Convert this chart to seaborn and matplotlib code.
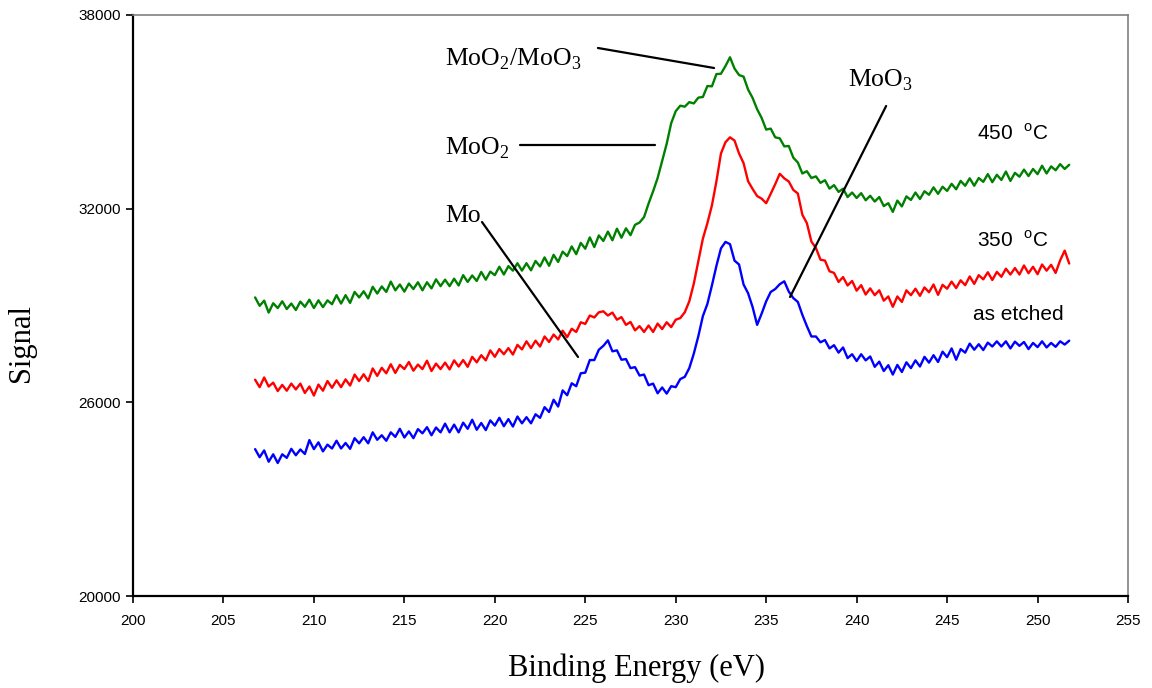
import numpy as np
import pandas as pd
import matplotlib
matplotlib.use("Agg")
import matplotlib.pyplot as plt
import seaborn as sns

# Binding-energy grid of the scans (eV), 0.25 eV steps
energy = np.linspace(206.75, 251.75, 181)

# Mo 3d region spectra (counts), one row per eV
as_etched = [
    24550,
    24300, 24510, 24160, 24390,  24120, 24390, 24280, 24560,  24360, 24540, 24400, 24830,
    24550, 24760, 24480, 24690,  24570, 24810, 24570, 24740,  24560, 24890, 24730, 24920,
    24730, 25070, 24840, 24980,  24810, 25070, 24930, 25180,  24910, 25100, 24890, 25170,
    25040, 25230, 24980, 25220,  25070, 25340, 25070, 25310,  25070, 25370, 25180, 25460,
    25150, 25360, 25140, 25440,  25280, 25520, 25260, 25480,  25250, 25560, 25350, 25540,
    25350, 25630, 25520, 25850,  25700, 26080, 25870, 26370,  26220, 26590, 26500, 26900,
    26920, 27310, 27310, 27630,  27750, 27920, 27580, 27610,  27320, 27340, 27060, 27090,
    26830, 26860, 26530, 26580,  26280, 26460, 26270, 26500,  26470, 26720, 26790, 27060,
    27510, 28050, 28670, 29050,  29620, 30230, 30770, 30970,  30900, 30390, 30270, 29650,
    29380, 28950, 28400, 28750,  29130, 29420, 29510, 29660,  29750, 29430, 29230, 29110,
    28710, 28360, 28040, 28040,  27860, 27930, 27670, 27770,  27540, 27700, 27370, 27490,
    27280, 27490, 27300, 27420,  27100, 27260, 26970, 27150,  26860, 27160, 26940, 27240,
    27060, 27300, 27110, 27410,  27230, 27460, 27250, 27570,  27400, 27670, 27320, 27650,
    27540, 27820, 27630, 27800,  27620, 27850, 27730, 27890,  27730, 27890, 27670, 27880,
    27750, 27870, 27650, 27840,  27710, 27890, 27700, 27840,  27720, 27890, 27790, 27910,
]

annealed_350 = [
    26700,
    26470, 26770, 26490, 26610,  26350, 26540, 26360, 26580,  26400, 26580, 26290, 26490,
    26210, 26550, 26360, 26660,  26450, 26680, 26470, 26710,  26520, 26860, 26660, 26870,
    26660, 27050, 26820, 27070,  26900, 27180, 26910, 27160,  27030, 27250, 26980, 27170,
    27030, 27290, 26970, 27200,  27030, 27230, 27020, 27300,  27110, 27310, 27100, 27410,
    27240, 27460, 27300, 27610,  27410, 27650, 27490, 27680,  27480, 27780, 27640, 27890,
    27680, 27910, 27730, 28040,  27870, 28100, 27950, 28220,  28020, 28280, 28180, 28480,
    28430, 28690, 28630, 28790,  28820, 28690, 28780, 28560,  28640, 28400, 28490, 28230,
    28360, 28180, 28380, 28180,  28440, 28270, 28480, 28330,  28560, 28610, 28790, 29130,
    29680, 30370, 31070, 31550,  32100, 32850, 33710, 34060,  34210, 34110, 33710, 33410,
    32850, 32610, 32390, 32310,  32170, 32460, 32760, 33080,  32940, 32840, 32580, 32470,
    31810, 31550, 30980, 30780,  30420, 30390, 30060, 30010,  29730, 29880, 29620, 29760,
    29460, 29630, 29340, 29530,  29320, 29470, 29150, 29280,  28960, 29280, 29110, 29470,
    29320, 29520, 29300, 29560,  29410, 29650, 29330, 29640,  29520, 29740, 29540, 29780,
    29630, 29900, 29670, 29940,  29810, 30030, 29790, 30040,  29890, 30140, 29960, 30160,
    29960, 30240, 30000, 30200,  29970, 30270, 30080, 30260,  30010, 30400, 30700, 30300,
]

annealed_450 = [
    29250,
    28990, 29150, 28780, 29070,  28920, 29130, 28890, 29060,  28860, 29120, 28960, 29180,
    28920, 29160, 28950, 29160,  29040, 29320, 29060, 29320,  29080, 29420, 29250, 29440,
    29220, 29580, 29370, 29590,  29420, 29740, 29470, 29650,  29430, 29680, 29510, 29720,
    29470, 29720, 29530, 29810,  29600, 29800, 29600, 29830,  29620, 29940, 29730, 29930,
    29760, 30040, 29800, 30050,  29940, 30200, 29960, 30220,  30080, 30310, 30080, 30310,
    30090, 30380, 30210, 30490,  30230, 30570, 30350, 30670,  30530, 30830, 30590, 30940,
    30760, 31110, 30810, 31170,  31000, 31290, 31020, 31380,  31100, 31390, 31180, 31500,
    31570, 31740, 32160, 32540,  32950, 33480, 34010, 34650,  35020, 35190, 35160, 35300,
    35260, 35440, 35460, 35800,  35790, 36170, 36180, 36420,  36690, 36340, 36140, 36090,
    35690, 35430, 35080, 34810,  34450, 34480, 34210, 34180,  33930, 33940, 33580, 33430,
    33090, 33160, 32950, 33000,  32800, 32880, 32620, 32730,  32520, 32620, 32360, 32500,
    32330, 32480, 32260, 32400,  32220, 32360, 32080, 32170,  31900, 32250, 32070, 32380,
    32270, 32500, 32300, 32540,  32430, 32660, 32460, 32680,  32550, 32770, 32600, 32860,
    32710, 32940, 32710, 32950,  32830, 33070, 32820, 33050,  32890, 33150, 32860, 33110,
    32990, 33210, 33010, 33230,  33070, 33330, 33090, 33310,  33190, 33380, 33230, 33360,
]

series_names = ["as etched", "350 C", "450 C"]
series_colors = ["#0000ff", "#ff0000", "#008000"]

x_ticks = list(range(200, 256, 5))
y_ticks = [20000, 26000, 32000, 38000]

df = pd.concat(
    [
        pd.DataFrame({"energy": energy, "signal": vals, "sample": name})
        for name, vals in zip(series_names, [as_etched, annealed_350, annealed_450])
    ],
    ignore_index=True,
)

sns.set_theme(style="white")
plt.rcParams["font.family"] = ["Liberation Sans", "DejaVu Sans"]
plt.rcParams["mathtext.fontset"] = "custom"
plt.rcParams["mathtext.rm"] = "Liberation Serif"
plt.rcParams["text.color"] = "black"
plt.rcParams["axes.labelcolor"] = "black"

fig = plt.figure(figsize=(11.52, 6.88), dpi=100)
ax = fig.add_axes([0.11545, 0.13372, 0.86372, 0.84448])

sns.lineplot(
    data=df, x="energy", y="signal", hue="sample",
    hue_order=series_names, palette=series_colors,
    estimator=None, sort=False, legend=False, linewidth=1.7, ax=ax,
)

ax.set_xlim(200, 255)
ax.set_ylim(20000, 38000)
ax.set_xticks(x_ticks)
ax.set_yticks(y_ticks)
ax.tick_params(axis="both", direction="out", length=5, width=1.2,
               labelsize=11, colors="black", pad=4,
               bottom=True, left=True, top=False, right=False)
ax.tick_params(axis="x", pad=8)

for side in ["left", "bottom"]:
    ax.spines[side].set_color("black")
    ax.spines[side].set_linewidth(1.6)
for side in ["top", "right"]:
    ax.spines[side].set_color("#808080")
    ax.spines[side].set_linewidth(1.2)

serif = ["Liberation Serif", "DejaVu Serif"]
ax.set_xlabel("Binding Energy (eV)", fontsize=22, family=serif, color="black")
ax.xaxis.set_label_coords(0.506, -0.124)
ax.xaxis.label.set_va("center")
ax.set_ylabel("Signal", fontsize=22, family=serif, color="black")
ax.yaxis.set_label_coords(-0.1116, 0.436)
ax.yaxis.label.set_va("center")

# Peak assignments with leader lines
peak_labels = [
    (r"MoO$_\mathregular{2}$/MoO$_\mathregular{3}$", 217.25, 36420, (225.70, 36978), (232.12, 36358)),
    (r"MoO$_\mathregular{2}$", 217.25, 33680, (221.39, 33973), (228.86, 33973)),
    ("Mo", 217.25, 31590, (219.29, 31587), (224.60, 27405)),
    (r"MoO$_\mathregular{3}$", 239.52, 35770, (241.63, 35181), (236.32, 29264)),
]
for text, tx, ty, p0, p1 in peak_labels:
    ax.text(tx, ty, text, fontsize=18.5, family=serif, ha="left", va="baseline", color="black")
    ax.plot([p0[0], p1[0]], [p0[1], p1[1]], color="black", linewidth=1.6)

# Sample labels
temp_labels = [
    (r"450  $^\mathregular{o}$C", 246.66, 34127),
    (r"350  $^\mathregular{o}$C", 246.66, 30813),
    ("as etched", 246.43, 28551),
]
for text, tx, ty in temp_labels:
    ax.text(tx, ty, text, fontsize=15, ha="left", va="baseline", color="black")

fig.savefig("out.png", dpi=100, facecolor="white")
